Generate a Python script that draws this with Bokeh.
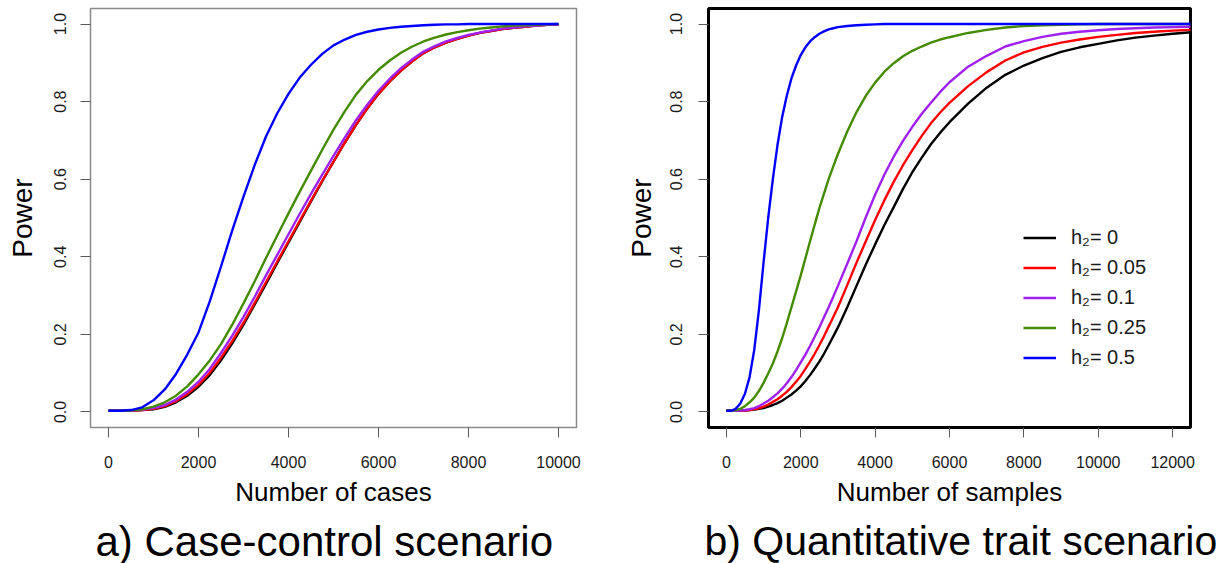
from bokeh.plotting import figure
from bokeh.models import (Range1d, FixedTicker, PrintfTickFormatter, NumeralTickFormatter,
                          Title, Legend, LegendItem)
from bokeh.layouts import row
from bokeh.embed import file_html
from bokeh.resources import INLINE

FONT = "Liberation Sans"

# ---------------- data: a) case-control scenario ----------------
cases = [0, 250, 500, 750, 1000, 1250, 1500, 1750, 2000, 2250, 2500, 2750, 3000, 3250,
         3500, 3750, 4000, 4250, 4500, 4750, 5000, 5250, 5500, 5750, 6000, 6250, 6500,
         6750, 7000, 7250, 7500, 7750, 8000, 8250, 8500, 8750, 9000, 9250, 9500, 9750, 10000]
cc_h0 = [0.003, 0.003, 0.003, 0.005, 0.007, 0.013, 0.025, 0.042, 0.065, 0.095, 0.133, 0.177,
         0.225, 0.277, 0.330, 0.384, 0.437, 0.490, 0.543, 0.595, 0.645, 0.694, 0.740, 0.782,
         0.820, 0.852, 0.880, 0.904, 0.925, 0.940, 0.952, 0.962, 0.970, 0.977, 0.982, 0.987,
         0.990, 0.993, 0.996, 0.998, 0.999]
cc_h005 = [0.003, 0.003, 0.003, 0.005, 0.008, 0.015, 0.028, 0.046, 0.070, 0.101, 0.140, 0.183,
           0.230, 0.281, 0.335, 0.388, 0.440, 0.493, 0.545, 0.596, 0.645, 0.694, 0.740, 0.782,
           0.820, 0.852, 0.880, 0.904, 0.925, 0.940, 0.952, 0.962, 0.970, 0.977, 0.982, 0.987,
           0.990, 0.993, 0.996, 0.998, 0.999]
cc_h01 = [0.003, 0.003, 0.004, 0.006, 0.010, 0.018, 0.032, 0.052, 0.078, 0.111, 0.152, 0.197,
          0.245, 0.297, 0.352, 0.405, 0.458, 0.511, 0.562, 0.612, 0.660, 0.707, 0.752, 0.792,
          0.828, 0.859, 0.886, 0.909, 0.929, 0.943, 0.955, 0.964, 0.972, 0.978, 0.983, 0.988,
          0.991, 0.994, 0.996, 0.998, 0.999]
cc_h025 = [0.003, 0.003, 0.004, 0.007, 0.014, 0.025, 0.042, 0.066, 0.097, 0.133, 0.175, 0.225,
           0.280, 0.337, 0.397, 0.455, 0.512, 0.568, 0.622, 0.676, 0.728, 0.775, 0.818, 0.853,
           0.882, 0.906, 0.926, 0.942, 0.955, 0.965, 0.973, 0.979, 0.984, 0.988, 0.991, 0.994,
           0.996, 0.997, 0.998, 0.999, 1.000]
cc_h05 = [0.003, 0.003, 0.005, 0.012, 0.030, 0.058, 0.098, 0.148, 0.205, 0.285, 0.375, 0.468,
          0.555, 0.637, 0.710, 0.770, 0.820, 0.862, 0.895, 0.923, 0.945, 0.960, 0.972, 0.980,
          0.986, 0.990, 0.993, 0.995, 0.997, 0.998, 0.999, 0.999, 1.000, 1.000, 1.000, 1.000,
          1.000, 1.000, 1.000, 1.000, 1.000]

# ---------------- data: b) quantitative trait scenario ----------------
samples = [0, 125, 250, 375, 500, 625, 750, 875, 1000, 1125, 1250, 1375, 1500, 1625, 1750,
           1875, 2000, 2125, 2250, 2375, 2500, 2625, 2750, 2875, 3000,
           3250, 3500, 3750, 4000, 4250, 4500, 4750, 5000, 5250, 5500, 5750, 6000,
           6500, 7000, 7500, 8000, 8500, 9000, 9500, 10000, 10500, 11000, 11500, 12000, 12500]
qt_h0 = [0.003, 0.003, 0.003, 0.003, 0.004, 0.005, 0.006, 0.008, 0.010, 0.014, 0.018, 0.023,
         0.029, 0.037, 0.045, 0.055, 0.066, 0.080, 0.095, 0.112, 0.130, 0.150, 0.172, 0.195,
         0.218,
         0.270, 0.325, 0.380, 0.432, 0.482, 0.528, 0.575, 0.618, 0.655, 0.690, 0.720, 0.747,
         0.795, 0.836, 0.869, 0.893, 0.912, 0.928, 0.940, 0.949, 0.958, 0.965, 0.970, 0.975, 0.979]
qt_h005 = [0.003, 0.003, 0.003, 0.003, 0.004, 0.005, 0.007, 0.010, 0.014, 0.019, 0.026, 0.033,
           0.042, 0.052, 0.064, 0.078, 0.093, 0.111, 0.130, 0.150, 0.172, 0.195, 0.220, 0.245,
           0.270,
           0.327, 0.385, 0.440, 0.495, 0.546, 0.593, 0.636, 0.675, 0.711, 0.744, 0.772, 0.797,
           0.840, 0.876, 0.906, 0.927, 0.941, 0.952, 0.960, 0.967, 0.972, 0.977, 0.980, 0.983, 0.985]
qt_h01 = [0.003, 0.003, 0.003, 0.004, 0.005, 0.007, 0.010, 0.015, 0.022, 0.029, 0.038, 0.048,
          0.060, 0.074, 0.090, 0.108, 0.128, 0.148, 0.170, 0.194, 0.218, 0.244, 0.270, 0.297,
          0.325,
          0.382, 0.440, 0.502, 0.560, 0.612, 0.658, 0.699, 0.735, 0.768, 0.797, 0.825, 0.850,
          0.890, 0.918, 0.942, 0.956, 0.967, 0.975, 0.980, 0.984, 0.987, 0.989, 0.991, 0.992, 0.993]
qt_h025 = [0.003, 0.003, 0.005, 0.008, 0.015, 0.025, 0.037, 0.054, 0.075, 0.099, 0.125, 0.156,
           0.190, 0.229, 0.270, 0.311, 0.352, 0.396, 0.440, 0.483, 0.525, 0.563, 0.600, 0.633,
           0.665,
           0.723, 0.773, 0.815, 0.849, 0.877, 0.899, 0.917, 0.931, 0.942, 0.952, 0.960, 0.966,
           0.977, 0.985, 0.991, 0.995, 0.997, 0.998, 0.999, 1.000, 1.000, 1.000, 1.000, 1.000, 1.000]
qt_h05 = [0.003, 0.003, 0.008, 0.022, 0.047, 0.090, 0.160, 0.262, 0.385, 0.500, 0.600, 0.688,
          0.760, 0.815, 0.860, 0.893, 0.920, 0.940, 0.955, 0.966, 0.975, 0.981, 0.986, 0.989,
          0.992,
          0.995, 0.997, 0.998, 0.999, 1.000, 1.000, 1.000, 1.000, 1.000, 1.000, 1.000, 1.000,
          1.000, 1.000, 1.000, 1.000, 1.000, 1.000, 1.000, 1.000, 1.000, 1.000, 1.000, 1.000, 1.000]

series_labels = ["h\u2082= 0", "h\u2082= 0.05", "h\u2082= 0.1", "h\u2082= 0.25", "h\u2082= 0.5"]
power_ticks = [0, 0.2, 0.4, 0.6, 0.8, 1.0]
cases_ticks = [0, 2000, 4000, 6000, 8000, 10000]
samples_ticks = [0, 2000, 4000, 6000, 8000, 10000, 12000]

COLORS = ["#000000", "#ff0000", "#a020f0", "#458b00", "#0000ff"]


def make_panel(xr, xticks, xlabel, caption, b_left, frame_w, b_right,
               outline_color, outline_w, cap_offset, cap_size, ylab_standoff, ytitle_standoff):
    p = figure(frame_width=frame_w, frame_height=419,
               x_range=Range1d(*xr), y_range=Range1d(-0.04, 1.04),
               output_backend="svg", toolbar_location=None,
               min_border_left=b_left, min_border_right=b_right,
               min_border_top=8, min_border_bottom=136)
    p.grid.visible = False
    p.outline_line_color = outline_color
    p.outline_line_width = outline_w
    p.outline_line_alpha = 1.0
    for ax in (p.xaxis[0], p.yaxis[0]):
        ax.axis_line_color = None
        ax.major_tick_in = 0
        ax.major_tick_out = 10
        ax.minor_tick_line_color = None
        ax.major_tick_line_color = "#5a5a5a"
        ax.major_tick_line_width = 1
        ax.major_label_text_font = FONT
        ax.major_label_text_font_size = "16px"
        ax.major_label_text_color = "#1a1a1a"
        ax.axis_label_text_font = FONT
        ax.axis_label_text_font_style = "normal"
        ax.axis_label_text_color = "#000000"
    p.xaxis.ticker = FixedTicker(ticks=xticks)
    p.xaxis.formatter = NumeralTickFormatter(format="0")
    p.yaxis.ticker = FixedTicker(ticks=power_ticks)
    p.yaxis.formatter = PrintfTickFormatter(format="%.1f")
    p.xaxis.axis_label = xlabel
    p.xaxis.axis_label_text_font_size = "26px"
    p.yaxis.axis_label = "Power"
    p.yaxis.axis_label_text_font_size = "28px"
    p.xaxis.major_label_standoff = 18
    p.xaxis.axis_label_standoff = 6
    p.yaxis.major_label_orientation = "vertical"
    p.yaxis.major_label_standoff = ylab_standoff
    p.yaxis.axis_label_standoff = ytitle_standoff
    t = Title(text=caption, align="left", offset=cap_offset, text_font=FONT,
              text_font_size=cap_size, text_font_style="normal", text_color="#000000",
              standoff=13)
    p.add_layout(t, "below")
    return p


p1 = make_panel((-400, 10400), cases_ticks, "Number of cases", "a) Case-control scenario",
                90, 486, 24, "#8a8a8a", 1.5, 5, "42px", 14, 14)
for ys, c in zip([cc_h0, cc_h005, cc_h01, cc_h025, cc_h05], COLORS):
    p1.line(cases, ys, line_color=c, line_width=2.4)

p2 = make_panel((-480, 12480), samples_ticks, "Number of samples",
                "b) Quantitative trait scenario", 108, 482, 36, "#000000", 3, -4, "41px", 16, 11)
renderers = []
for ys, c in zip([qt_h0, qt_h005, qt_h01, qt_h025, qt_h05], COLORS):
    renderers.append(p2.line(samples, ys, line_color=c, line_width=2.4))

legend = Legend(items=[LegendItem(label=lab, renderers=[r]) for lab, r in zip(series_labels, renderers)],
                location=(315, 58), glyph_width=33, glyph_height=23, label_height=23,
                label_standoff=15, spacing=7, padding=0, margin=0,
                border_line_color=None, background_fill_alpha=0,
                label_text_font=FONT, label_text_font_size="20px", label_text_color="#1a1a1a")
p2.add_layout(legend)

layout = row(p1, p2, spacing=0)
open("out.html", "w").write(file_html(layout, INLINE))
